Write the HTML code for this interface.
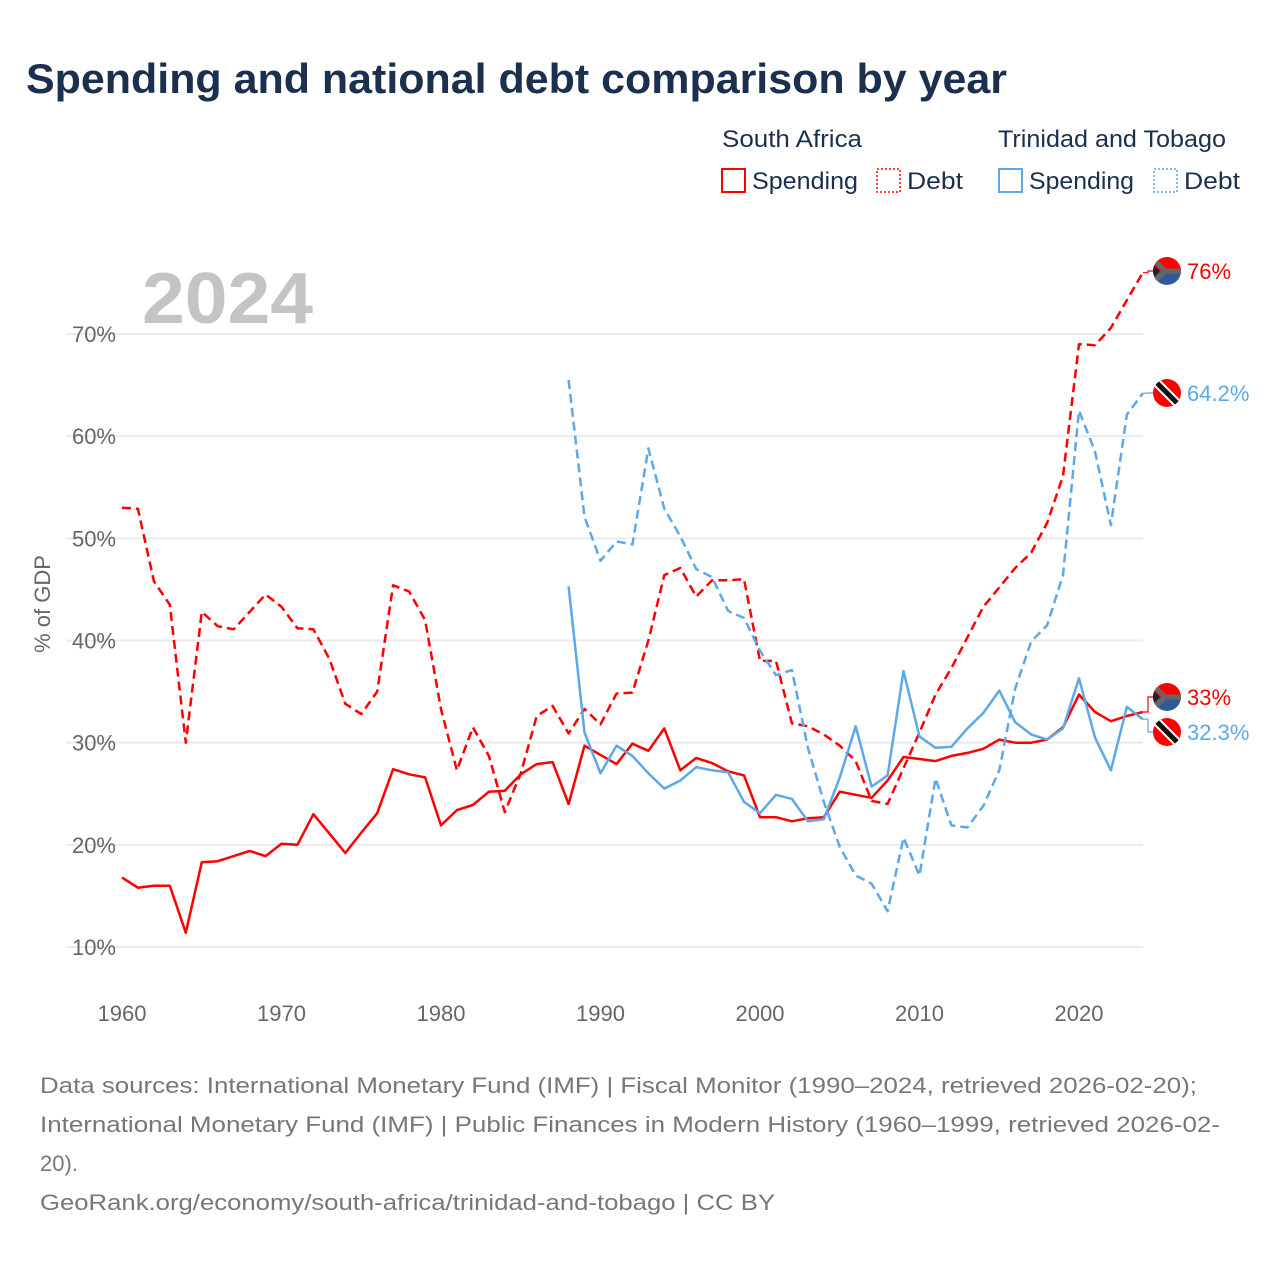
<!DOCTYPE html>
<html><head><meta charset="utf-8"><style>
body{margin:0;background:#fff;width:1280px;height:1280px;overflow:hidden;font-family:"Liberation Sans",sans-serif}
svg{display:block}
</style></head><body>
<svg id="chart" width="1280" height="1280" xmlns="http://www.w3.org/2000/svg">
<text x="26" y="93" font-size="42" font-weight="bold" fill="#1b2f4e" textLength="981" lengthAdjust="spacingAndGlyphs">Spending and national debt comparison by year</text>
<g font-size="24" fill="#1b2f4e">
<text x="722" y="147" textLength="140" lengthAdjust="spacingAndGlyphs">South Africa</text>
<text x="998" y="147" textLength="228" lengthAdjust="spacingAndGlyphs">Trinidad and Tobago</text>
<g><rect x="722" y="169" width="23" height="23" fill="none" stroke="#f00" stroke-width="2"/><text x="752" y="189" textLength="106" lengthAdjust="spacingAndGlyphs">Spending</text></g>
<g><rect x="877" y="169" width="23" height="23" fill="none" stroke="#f00" stroke-width="1.5" stroke-dasharray="2,2"/><text x="907" y="189" textLength="56" lengthAdjust="spacingAndGlyphs">Debt</text></g>
<g><rect x="999" y="169" width="23" height="23" fill="none" stroke="#5da8e8" stroke-width="2"/><text x="1029" y="189" textLength="105" lengthAdjust="spacingAndGlyphs">Spending</text></g>
<g><rect x="1154" y="169" width="23" height="23" fill="none" stroke="#5da8e8" stroke-width="1.5" stroke-dasharray="2,2"/><text x="1184" y="189" textLength="56" lengthAdjust="spacingAndGlyphs">Debt</text></g>
</g>
<text x="142" y="323" font-size="72" font-weight="bold" fill="#c4c4c4" textLength="171" lengthAdjust="spacingAndGlyphs">2024</text>
<g id="grid"></g>
<g id="xaxis"></g>
<text transform="translate(50,604) rotate(-90)" font-size="22" fill="#666" text-anchor="middle">% of GDP</text>
<g id="series"></g>
<g id="ends"></g>
<g font-size="22" fill="#777">
<text x="40" y="1093" textLength="1157" lengthAdjust="spacingAndGlyphs">Data sources: International Monetary Fund (IMF) | Fiscal Monitor (1990–2024, retrieved 2026-02-20);</text>
<text x="40" y="1132" textLength="1180" lengthAdjust="spacingAndGlyphs">International Monetary Fund (IMF) | Public Finances in Modern History (1960–1999, retrieved 2026-02-</text>
<text x="40" y="1171">20).</text>
<text x="40" y="1210" textLength="735" lengthAdjust="spacingAndGlyphs">GeoRank.org/economy/south-africa/trinidad-and-tobago | CC BY</text>
</g>
</svg>
<script>
const yTicks=[10,20,30,40,50,60,70];
const xTicks=[1960,1970,1980,1990,2000,2010,2020];
const saYearStart=1960;
const ttYearStart=1988;
const saDebt=[53.0,52.9,45.8,43.5,30.0,42.8,41.4,41.1,42.8,44.5,43.3,41.2,41.1,38.2,33.8,32.8,35.0,45.4,44.8,42.0,33.3,27.3,31.5,28.7,23.2,27.0,32.6,33.6,30.9,33.3,31.8,34.8,34.9,40.0,46.4,47.1,44.3,45.9,45.9,46.0,38.0,38.0,31.9,31.6,30.8,29.7,28.2,24.3,24.0,27.5,31.0,34.7,37.3,40.3,43.3,45.2,47.1,48.6,51.5,56.1,69.0,68.9,70.6,73.3,76.0];
const saSpending=[16.8,15.8,16.0,16.0,11.4,18.3,18.4,18.9,19.4,18.9,20.1,20.0,23.0,21.1,19.2,21.2,23.1,27.4,26.9,26.6,21.9,23.4,23.9,25.2,25.3,26.9,27.9,28.1,24.0,29.7,28.8,27.9,29.9,29.2,31.4,27.3,28.5,28.0,27.2,26.8,22.7,22.7,22.3,22.6,22.7,25.2,24.9,24.6,26.3,28.6,28.4,28.2,28.7,29.0,29.4,30.3,30.0,30.0,30.3,31.5,34.7,33.0,32.1,32.6,33.0];
const ttSpending=[45.3,31.0,27.0,29.7,28.7,27.0,25.5,26.3,27.6,27.3,27.1,24.2,23.1,24.9,24.5,22.3,22.5,26.6,31.6,25.7,26.8,37.0,30.6,29.5,29.6,31.4,32.9,35.1,32.0,30.8,30.3,31.4,36.3,30.5,27.3,33.5,32.3];
const ttDebt=[65.5,52.1,47.8,49.7,49.4,58.8,52.9,50.2,47.0,46.2,42.9,42.2,39.0,36.6,37.1,29.5,24.2,19.8,17.0,16.2,13.5,20.7,17.0,26.5,21.9,21.7,23.8,27.3,35.3,39.9,41.5,46.4,62.5,58.5,51.3,62.1,64.2];
const X=yr=>122+(yr-1960)*(1079-122)/60;
const Y=v=>947-(v-10)*(947-334)/60;
const NS="http://www.w3.org/2000/svg";
function mk(tag,attrs,parent){const e=document.createElementNS(NS,tag);for(const k in attrs)e.setAttribute(k,attrs[k]);parent.appendChild(e);return e;}
const grid=document.getElementById('grid');
yTicks.forEach(t=>{
 const l=mk('line',{x1:66,x2:1143,y1:Y(t),y2:Y(t),stroke:'#ebebeb','stroke-width':2},grid);
 
 
 const tx=mk('text',{x:116,y:Y(t)+8,'font-size':22,fill:'#666','text-anchor':'end'},grid);
 tx.textContent=t+'%';
 
 
});
const xa=document.getElementById('xaxis');
xTicks.forEach(t=>{
 const tx=mk('text',{x:X(t),y:1021,'font-size':22,fill:'#666','text-anchor':'middle'},xa);
 tx.textContent=t;
 
 
});
const ser=document.getElementById('series');
function line(arr,start,color,dash,name){
 const d=arr.map((v,i)=>(i?'L':'M')+X(start+i).toFixed(1)+','+Y(v).toFixed(1)).join('');
 const p=mk('path',{d:d,fill:'none',stroke:color,'stroke-width':2.5,'stroke-linejoin':'round'},ser);
 if(dash)p.setAttribute('stroke-dasharray','9,5');
 
 
}
line(saDebt,saYearStart,'#f00',true,'line-sa-debt');
line(saSpending,saYearStart,'#f00',false,'line-sa-spending');
line(ttDebt,ttYearStart,'#5da8e8',true,'line-tt-debt');
line(ttSpending,ttYearStart,'#5da8e8',false,'line-tt-spending');
const ends=document.getElementById('ends');
function flag(cx,cy,sa,g){
 const id='c'+Math.round(cy);
 const cp=mk('clipPath',{id:id},g);mk('circle',{cx:cx,cy:cy,r:14},cp);
 const f=mk('g',{'clip-path':'url(#'+id+')'},g);
 if(sa){
  mk('rect',{x:cx-14,y:cy-14,width:28,height:14,fill:'#f00'},f);
  mk('rect',{x:cx-14,y:cy,width:28,height:14,fill:'#2f5a96'},f);
  mk('path',{d:`M${cx-14},${cy-12}L${cx-2},${cy}L${cx-14},${cy+12}`,fill:'none',stroke:'#666',"stroke-width":5},f);
  mk('rect',{x:cx-2,y:cy-2.5,width:18,height:5,fill:'#666'},f);
  mk('path',{d:`M${cx-14},${cy-7}L${cx-7},${cy}L${cx-14},${cy+7}Z`,fill:'#222'},f);
 }else{
  mk('rect',{x:cx-14,y:cy-14,width:28,height:28,fill:'#f00'},f);
  mk('line',{x1:cx-12,y1:cy-12,x2:cx+12,y2:cy+12,stroke:'#fff','stroke-width':9},f);
  mk('line',{x1:cx-12,y1:cy-12,x2:cx+12,y2:cy+12,stroke:'#111','stroke-width':5},f);
 }
}
function endLabel(v,ly,color,text,sa,name){
 const g=mk('g',{},ends);
 
 
 const y0=Y(v);
 mk('path',{d:`M1143,${y0}L1148,${y0}L1148,${ly}L1153,${ly}`,fill:'none',stroke:color,'stroke-width':1.2},g);
 flag(1167,ly,sa,g);
 const t=mk('text',{x:1187,y:ly+8,'font-size':22,fill:color},g);
 t.textContent=text;
}
endLabel(saDebt[saDebt.length-1],271,'#f00','76%',true,'end-label-sa-debt');
endLabel(ttDebt[ttDebt.length-1],393,'#5da8e8','64.2%',false,'end-label-tt-debt');
endLabel(saSpending[saSpending.length-1],697,'#f00','33%',true,'end-label-sa-spending');
endLabel(ttSpending[ttSpending.length-1],732,'#5da8e8','32.3%',false,'end-label-tt-spending');
</script>
</body></html>
